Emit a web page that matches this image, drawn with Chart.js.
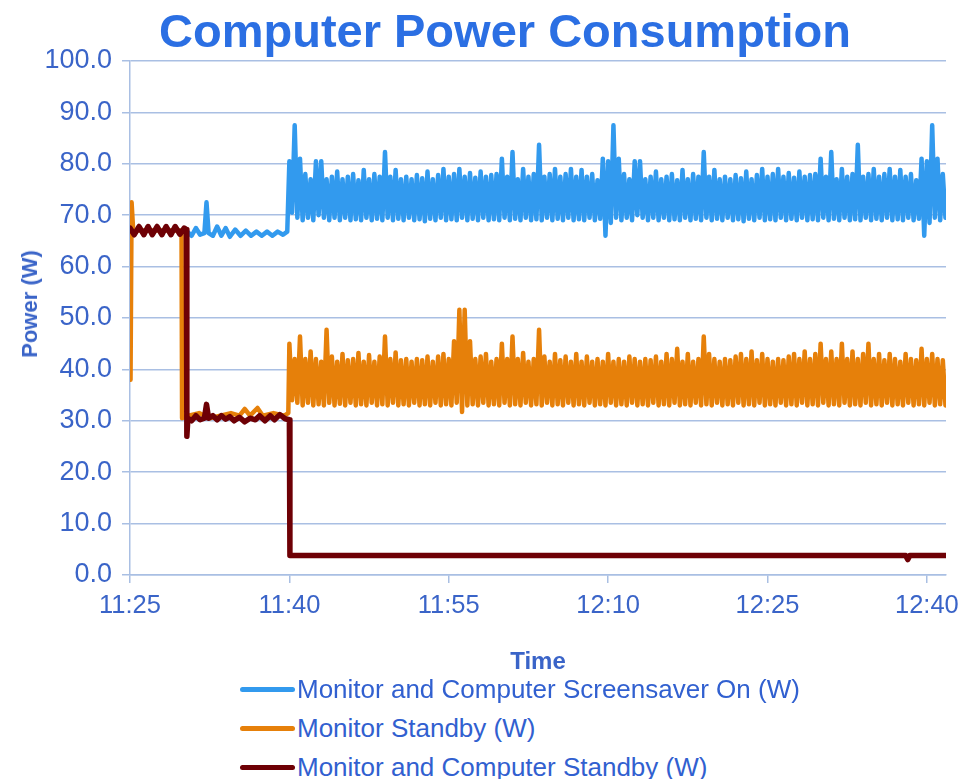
<!DOCTYPE html>
<html>
<head>
<meta charset="utf-8">
<script src="https://cdn.jsdelivr.net/npm/chart.js@4.4.1/dist/chart.umd.min.js"></script>
<style>
  body { margin: 0; background: #fff; font-family: "Liberation Sans", Arial, sans-serif; }
  #wrap { position: relative; width: 978px; height: 779px; overflow: hidden; }
  #title {
    position: absolute; left: 505px; top: 7px; transform: translateX(-50%);
    font: bold 47px/1 "Liberation Sans", Arial, sans-serif; color: #2b6fe3; white-space: nowrap;
  }
  #ytitle {
    position: absolute; left: 30px; top: 304px; transform: translate(-50%, -50%) rotate(-90deg);
    font: bold 22px/1 "Liberation Sans", Arial, sans-serif; color: #3a64c8; white-space: nowrap;
  }
  #chart { position: absolute; left: 0; top: 0; }
  .item { position: absolute; left: 240px; height: 30px; display: flex; align-items: center;
    font-size: 26px; color: #3160d0; white-space: nowrap; }
  .swatch { width: 55px; height: 5px; border-radius: 3px; margin-right: 2px; }
</style>
</head>
<body>
<div id="wrap">
  <canvas id="chart" width="978" height="680"></canvas>
  <div id="title">Computer Power Consumption</div>
  <div id="ytitle">Power (W)</div>
  <div id="legend"></div>
</div>
<script>
// x axis: minutes after 11:25
const tickMinutes = [0, 15, 30, 45, 60, 75];
const tickLabels = ["11:25", "11:40", "11:55", "12:10", "12:25", "12:40"];

const seriesNames = [
  "Monitor and Computer Screensaver On (W)",
  "Monitor Standby (W)",
  "Monitor and Computer Standby (W)"
];

// readings logged every 15 s once the noisy phase starts at 11:40
const BAND_START = 15;
const SAMPLE_STEP = 0.25;

// Screensaver On: settled part before 11:40
const screensaverTimes = [0, 1, 2, 3, 4, 5, 5.4, 5.8, 6.2, 6.6, 7.0, 7.2, 7.4, 7.8, 8.2, 8.6,
  9.0, 9.4, 9.9, 10.4, 10.9, 11.4, 11.9, 12.4, 12.9, 13.4, 13.9, 14.4, 14.8];
const screensaverWatts = [67, 67, 67, 67, 67, 67, 66.8, 66, 67.5, 66.2, 66.5, 72.5, 66.5, 66, 67.8, 66,
  67.5, 65.8, 67.2, 66, 67, 66, 66.8, 66, 66.8, 66, 66.8, 66.2, 66.8];
// Screensaver On: readings from 11:40
const screensaverBand = [
  80.5, 70.5, 87.5, 69.5, 81, 69, 78, 69.5,
  77, 69, 80.5, 70, 80.5, 69.5, 77, 69,
  77.5, 69.5, 78.5, 69, 77, 69.5, 77.5, 69,
  78, 69.2, 76.8, 69, 78.8, 69.5, 77, 69,
  78, 69.3, 77.5, 69, 82.3, 69.5, 77.5, 69,
  78.8, 69.3, 77, 69, 77.5, 69.5, 77, 69,
  77.8, 69.2, 77.2, 68.8, 78.5, 69.3, 77, 69,
  77.8, 69.5, 79, 69, 77.5, 69.2, 78, 69,
  79, 69.5, 77.5, 69, 78.2, 69.3, 77.3, 69,
  78.5, 69.5, 77.5, 69, 77.8, 69.2, 78, 69,
  81, 69.5, 77.5, 69, 82.3, 69.3, 77, 69,
  79, 69.5, 77.5, 69, 78, 69.2, 83.7, 69,
  77.5, 69.5, 78, 69, 79, 69.3, 77.5, 69,
  78, 69.5, 79, 69, 77.5, 69.2, 78.8, 69,
  77.5, 69.5, 78, 69, 76.8, 69.3, 81, 66,
  80.5, 68.5, 87.5, 69.5, 81, 69, 78, 69.5,
  77, 69, 80.5, 70, 80.5, 69.5, 77, 69,
  77.5, 69.5, 78.5, 69, 77, 69.5, 77.5, 69,
  78, 69.2, 76.8, 69, 78.8, 69.5, 77, 69,
  78, 69.3, 77.5, 69, 82.3, 69.5, 77.5, 69,
  78.8, 69.3, 77, 69, 77.5, 69.5, 77, 69,
  77.8, 69.2, 77.2, 68.8, 78.5, 69.3, 77, 69,
  77.8, 69.5, 79, 69, 77.5, 69.2, 78, 69,
  79, 69.5, 77.5, 69, 78.2, 69.3, 77.3, 69,
  78.5, 69.5, 77.5, 69, 77.8, 69.2, 78, 69,
  81, 69.5, 77.5, 69, 82.3, 69.3, 77, 69,
  79, 69.5, 77.5, 69, 78, 69.2, 83.7, 69,
  77.5, 69.5, 78, 69, 79, 69.3, 77.5, 69,
  78, 69.5, 79, 69, 77.5, 69.2, 78.8, 69,
  77.5, 69.5, 78, 69, 76.8, 69.3, 81, 66,
  80.5, 68.5, 87.5, 69.5, 81, 69, 78, 69.5
];

// Monitor Standby: before 11:40
const monitorTimes = [0.05, 0.15, 0.3, 1, 2, 3, 4, 4.85, 4.9, 5.5, 6.5, 7.5, 8.5, 9.5, 10.3,
  10.8, 11.3, 12.0, 12.5, 13.5, 14.5, 14.9];
const monitorWatts = [38, 72.5, 67, 67, 67, 67, 67, 67, 30.5, 31, 31.5, 30.5, 31, 31.5, 31,
  32.3, 31, 32.5, 31, 31.5, 31, 31.5];
// Monitor Standby: readings from 11:40
const monitorBand = [
  45, 34, 42, 33.5, 46.4, 33, 42, 33.5,
  43.5, 33, 42, 33.2, 41.5, 33, 47.7, 33.5,
  42.5, 33, 41.5, 33.3, 43, 33, 41.8, 33.5,
  42, 33, 43.2, 33.2, 41.5, 33, 42.8, 33.5,
  41.5, 33, 42.5, 33.2, 46.4, 33, 42, 33.5,
  43.3, 33, 41.8, 33.2, 42, 33, 41.5, 33.5,
  42, 33, 41.8, 33.2, 42.5, 33, 41.5, 33.5,
  42.5, 33, 43, 33.2, 42, 33, 45.5, 33.5,
  51.6, 31.7, 51.6, 33, 45.5, 33.2, 42, 33,
  42.5, 33.5, 43, 33, 41.5, 33.2, 42, 33,
  45, 33.5, 42, 33, 46.4, 33.2, 42, 33,
  43.2, 33.5, 41.5, 33, 42, 33.2, 47.7, 33,
  42.5, 33.5, 41.5, 33, 43, 33.2, 41.8, 33,
  42.5, 33.5, 41.5, 33, 43, 33.2, 41.5, 33,
  42.5, 33.5, 41.5, 33, 42, 33.2, 41.5, 33,
  43, 33.5, 41.5, 33, 42, 33.2, 41.5, 33,
  42.5, 33.5, 42, 33, 41.5, 33.2, 42, 33,
  41.8, 33.5, 42.5, 33, 41.5, 33.2, 43, 33,
  42, 33.5, 44, 33, 41.5, 33.2, 43, 33,
  41.5, 33.5, 42, 33, 46.4, 33.2, 43, 33,
  42, 33.5, 41.5, 33, 42, 33.2, 41.8, 33,
  42.5, 33.5, 43, 33, 42, 33.2, 43.5, 33,
  41.8, 33.5, 43, 33, 42, 33.2, 41.5, 33,
  42, 33.5, 41.8, 33, 42.5, 33.2, 43, 33,
  42, 33.5, 43.5, 33, 42, 33.2, 43, 33,
  45, 33.5, 42, 33, 43.5, 33.2, 42, 33,
  45, 33.5, 42, 33, 43.5, 33.2, 42, 33,
  43, 33.5, 45, 33, 42, 33.2, 43, 33,
  41.8, 33.5, 43, 33, 42, 33.2, 41.5, 33,
  43, 33.5, 42, 33, 41.8, 33.2, 44, 33,
  42, 33.5, 43, 33, 42, 33.2, 41.8, 33
];

// Monitor and Computer Standby
const standbyTimes = [0, 0.4, 0.85, 1.3, 1.7, 2.1, 2.55, 3.0, 3.4, 3.85,
  4.25, 4.7, 5.1, 5.3, 5.35, 5.45, 5.8, 6.2, 6.6, 7.0,
  7.2, 7.4, 7.8, 8.2, 8.6, 9.0, 9.4, 9.8, 10.3, 10.8,
  11.3, 11.8, 12.2, 12.7, 13.2, 13.6, 14.1, 14.6, 15.0, 15.05,
  30, 45, 60, 73.0, 73.2, 73.4, 76.8];
const standbyWatts = [67.5, 66.2, 67.8, 66.2, 67.8, 66.2, 67.8, 66.2, 67.8, 66.2,
  67.8, 66.3, 67.5, 67.2, 27, 30.5, 30, 31, 30.2, 30.5,
  33.2, 30.5, 31, 30.2, 31, 30.3, 30.8, 30, 30.7, 29.8,
  30.5, 30.2, 31, 30, 31, 30.2, 31.2, 30.4, 30.2, 3.8,
  3.8, 3.8, 3.8, 3.8, 3.0, 3.8, 3.8];

const colors = ["#329aee", "#e6800a", "#6e0005"];

function buildPoints(times, watts, band) {
  const pts = times.map((t, i) => ({ x: t, y: watts[i] }));
  (band || []).forEach((w, i) => pts.push({ x: BAND_START + i * SAMPLE_STEP, y: w }));
  return pts;
}

const FONT = "'Liberation Sans', Arial, sans-serif";
const TEXT_BLUE = "#3a64c8";
const GRID = "#a9bfe3";

const chart = new Chart(document.getElementById("chart"), {
  type: "line",
  data: {
    datasets: [
      { label: seriesNames[0], data: buildPoints(screensaverTimes, screensaverWatts, screensaverBand),
        borderColor: colors[0], borderWidth: 4.5, order: 3 },
      { label: seriesNames[1], data: buildPoints(monitorTimes, monitorWatts, monitorBand),
        borderColor: colors[1], borderWidth: 4.5, order: 2 },
      { label: seriesNames[2], data: buildPoints(standbyTimes, standbyWatts),
        borderColor: colors[2], borderWidth: 5.5, order: 1 }
    ]
  },
  options: {
    responsive: false,
    animation: false,
    events: [],
    elements: {
      point: { radius: 0 },
      line: { tension: 0, borderJoinStyle: "round", borderCapStyle: "round", fill: false }
    },
    layout: { padding: { top: 61, right: 32, left: 0, bottom: 0 } },
    plugins: { legend: { display: false }, tooltip: { enabled: false } },
    scales: {
      x: {
        type: "linear",
        min: 0,
        max: 76.8,
        afterBuildTicks: s => { s.ticks = tickMinutes.map(v => ({ value: v })); },
        afterFit: s => { s.height = 105; },
        ticks: {
          padding: 8,
          color: TEXT_BLUE,
          font: { family: FONT, size: 25.5 },
          maxRotation: 0,
          callback: v => tickLabels[tickMinutes.indexOf(v)]
        },
        grid: { drawOnChartArea: false, drawTicks: true, tickLength: 8, color: GRID, lineWidth: 1.5 },
        border: { color: GRID, width: 1.5 },
        title: {
          display: true, text: "Time", color: TEXT_BLUE,
          font: { family: FONT, size: 24, weight: "bold" },
          padding: { top: 0, bottom: 3 }
        }
      },
      y: {
        min: 0,
        max: 100,
        afterFit: s => { s.width = 130; },
        ticks: {
          stepSize: 10,
          padding: 10,
          color: TEXT_BLUE,
          font: { family: FONT, size: 27 },
          callback: v => v.toFixed(1)
        },
        grid: { color: GRID, lineWidth: 1.5, tickLength: 8 },
        border: { color: GRID, width: 1.5 }
      }
    }
  }
});

// legend as a vertical list under the axis title
const legend = document.getElementById("legend");
chart.data.datasets.forEach((ds, i) => {
  const row = document.createElement("div");
  row.className = "item";
  row.style.top = (674 + i * 39) + "px";
  const sw = document.createElement("span");
  sw.className = "swatch";
  sw.style.background = ds.borderColor;
  row.appendChild(sw);
  row.appendChild(document.createTextNode(ds.label));
  legend.appendChild(row);
});
</script>
</body>
</html>
